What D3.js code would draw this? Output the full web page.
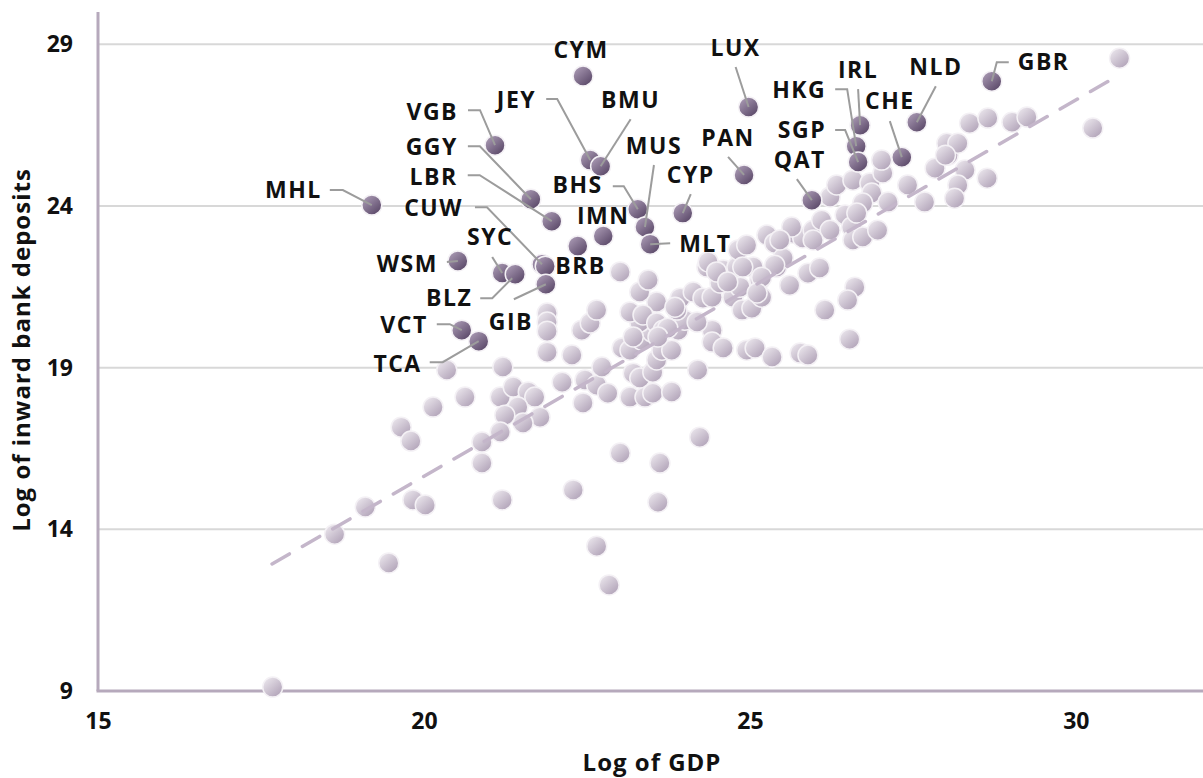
<!DOCTYPE html>
<html><head><meta charset="utf-8">
<script src="https://cdn.jsdelivr.net/npm/d3@7"></script>
<style>
html,body{margin:0;padding:0;background:#fff;}
svg{display:block;}
text{font-family:"Open Sans",sans-serif;font-weight:700;fill:#111;}
</style></head><body>
<svg id="chart" width="1203" height="778"></svg>
<script>
// ---------- data ----------
const xTicks = [15, 20, 25, 30];
const yTicks = [9, 14, 19, 24, 29];
const xTitle = "Log of GDP";
const yTitle = "Log of inward bank deposits";

const lightX = [17.68,18.63,19.46,19.10,19.83,20.02,19.65,19.80,20.14,20.35,20.63,20.89,20.89,21.20,22.29,23.01,23.62,23.59,24.23,22.65,22.84,
21.17,21.37,21.60,21.70,21.44,21.78,21.52,21.24,21.17,21.21,
21.89,21.89,21.89,21.89,22.27,22.42,22.55,22.65,23.01,22.12,22.47,22.65,22.82,22.44,23.16,23.39,23.51,23.80,22.73,23.21,23.31,23.51,23.57,23.65,23.80,23.04,23.16,23.34,23.50,23.31,23.16,23.57,23.31,23.44,23.36,23.57,23.67,23.90,24.00,23.88,23.93,24.13,24.28,24.42,24.74,24.20,24.42,24.42,24.59,24.95,25.08,25.34,24.88,25.03,25.18,25.61,24.54,24.34,24.59,24.80,25.05,25.15,25.41,25.77,24.19,23.74,23.59,23.21,23.85,24.36,24.49,24.82,24.95,25.26,25.38,25.66,25.81,25.97,25.51,25.38,25.18,24.85,25.11,24.66,24.89,25.89,26.07,26.61,26.50,26.15,26.53,25.89,
26.23,26.33,26.58,26.84,27.04,27.02,26.87,26.73,27.12,27.42,27.68,27.84,28.04,28.30,28.19,28.14,28.64,26.10,26.23,26.46,26.56,26.58,26.73,26.96,30.67,30.26,28.37,28.65,29.02,29.25,28.02,28.19,28.00,25.64,25.46,26.64,25.97];
const lightY = [9.12,13.85,12.96,14.69,14.91,14.75,17.16,16.73,17.78,18.93,18.09,16.70,16.05,14.91,15.22,16.36,16.05,14.84,16.85,13.48,12.28,
18.09,18.40,18.25,18.09,17.78,17.47,17.29,17.53,17.01,19.02,
20.69,20.41,20.13,19.48,19.39,20.16,20.38,20.78,21.96,18.55,18.62,18.46,18.21,17.91,18.09,18.09,18.21,18.25,19.02,18.83,18.68,18.86,19.24,19.54,19.54,19.61,19.54,19.85,20.10,20.41,20.72,21.03,21.34,21.71,20.63,20.38,20.16,20.16,20.47,20.78,21.15,21.34,21.15,21.18,21.18,18.93,20.16,19.79,19.61,19.54,19.61,19.33,20.78,20.84,21.18,21.55,21.62,22.11,22.02,22.11,22.11,21.71,22.11,19.45,20.41,20.22,19.95,19.95,20.87,22.27,21.96,22.64,22.79,23.10,22.85,23.16,23.01,23.25,22.39,22.17,21.80,21.49,21.31,21.65,22.11,21.92,22.08,21.49,21.09,20.78,19.88,19.39,
24.28,24.65,24.80,24.71,25.02,25.42,24.40,24.09,24.12,24.65,24.12,25.17,25.57,25.11,24.65,24.24,24.86,23.56,23.25,23.72,23.35,22.95,23.04,23.25,28.57,26.41,26.56,26.72,26.59,26.75,25.94,25.94,25.57,23.35,22.95,23.78,22.95];

const hlCodes = ["MHL","VGB","CYM","JEY","BMU","GGY","LBR","CUW","BRB","BHS","IMN","","MUS","MLT","CYP","LUX","PAN","HKG","IRL","SGP","QAT","CHE","NLD","GBR","WSM","SYC","BLZ","GIB","VCT","TCA"];
const hlX = [19.20,21.09,22.44,22.55,22.71,21.64,21.96,21.81,21.86,23.28,22.75,22.36,23.39,23.47,23.97,24.98,24.91,26.63,26.69,26.66,25.95,27.33,27.56,28.71,20.52,21.20,21.40,21.87,20.58,20.84];
const hlY = [24.03,25.88,28.02,25.42,25.23,24.21,23.53,22.20,22.14,23.90,23.07,22.76,23.35,22.82,23.78,27.06,24.96,25.85,26.50,25.36,24.18,25.51,26.59,27.86,22.30,21.93,21.89,21.58,20.16,19.82];

const trendX = [17.67, 30.55];
const trendY = [12.93, 27.92];

// ---------- label layout (pixel offsets from the point) ----------
const labelLayout = {
  MHL:{dx:-50,dy:-15,a:"end",  l:[[-42,-15],[-29,-15],[0,0]]},
  VGB:{dx:-37,dy:-33,a:"end",  l:[[-27,-35],[-15,-35],[0,0]]},
  GGY:{dx:-73,dy:-52,a:"end",  l:[[-63,-53],[-51,-53],[0,0]]},
  LBR:{dx:-94,dy:-44,a:"end",  l:[[-84,-46],[-72,-46],[0,0]]},
  CUW:{dx:-79,dy:-56,a:"end",  l:[[-67,-57],[-55,-57],[0,0]]},
  JEY:{dx:-54,dy:-60,a:"end",  l:[[-44,-61],[-33,-61],[0,0]]},
  CYM:{dx:-2, dy:-26,a:"middle",l:null},
  BMU:{dx:30, dy:-66,a:"middle",l:[[30,-47],[0,0]]},
  MUS:{dx:9,  dy:-81,a:"middle",l:[[9,-62],[0,0]]},
  BHS:{dx:-35,dy:-24,a:"end",  l:[[-25,-23],[-14,-23],[0,0]]},
  IMN:{dx:0,  dy:-20,a:"middle",l:null},
  CYP:{dx:8,  dy:-38,a:"middle",l:[[8,-19],[0,0]]},
  MLT:{dx:29, dy:0,  a:"start",l:[[0,0],[20,-1]]},
  LUX:{dx:-13,dy:-59,a:"middle",l:[[-13,-40],[0,0]]},
  PAN:{dx:-16,dy:-37,a:"middle",l:[[-16,-18],[0,0]]},
  HKG:{dx:-30,dy:-56,a:"end",  l:[[-21,-57],[-9,-57],[0,0]]},
  IRL:{dx:-2, dy:-55,a:"middle",l:[[-2,-36],[0,0]]},
  SGP:{dx:-32,dy:-32,a:"end",  l:[[-23,-32],[-13,-32],[0,0]]},
  QAT:{dx:-12,dy:-40,a:"middle",l:[[-15,-21],[0,0]]},
  CHE:{dx:-12,dy:-56,a:"middle",l:[[-12,-36],[0,0]]},
  NLD:{dx:19, dy:-55,a:"middle",l:[[19,-36],[0,0]]},
  GBR:{dx:26, dy:-19,a:"start",l:[[17,-19],[5,-19],[0,0]]},
  WSM:{dx:-20,dy:3,  a:"end",  l:[[-11,1],[0,0]]},
  SYC:{dx:-12,dy:-36,a:"middle",l:[[-10,-16],[0,0]]},
  BLZ:{dx:-43,dy:24, a:"end",  l:[[-35,24],[-23,24],[-3,4]]},
  BRB:{dx:10, dy:0,  a:"start",l:null},
  GIB:{dx:-35,dy:38, a:"middle",l:[[-32,15],[0,0]]},
  VCT:{dx:-34,dy:-5, a:"end",  l:[[-25,-6],[-12,-6],[0,0]]},
  TCA:{dx:-57,dy:23, a:"end",  l:[[-49,21],[-36,21],[0,0]]}
};

// ---------- chart ----------
const svg = d3.select("#chart");
const x = d3.scaleLinear().domain([15, 31.95]).range([98, 1203]);
const y = d3.scaleLinear().domain([9, 30]).range([691, 12]);
const R = 10;

const defs = svg.append("defs");
function grad(id, c1, c2){
  const g = defs.append("linearGradient").attr("id", id)
    .attr("x1","15%").attr("y1","10%").attr("x2","85%").attr("y2","90%");
  g.append("stop").attr("offset","0%").attr("stop-color",c1);
  g.append("stop").attr("offset","100%").attr("stop-color",c2);
}
grad("gLight", "#e8e3ea", "#b2a4b9");
grad("gDark", "#a797b1", "#5b4969");

// grid
svg.append("g").selectAll("line").data(yTicks.filter(t => t !== 9)).join("line")
  .attr("x1", x(15)).attr("x2", 1203)
  .attr("y1", d => y(d)).attr("y2", d => y(d))
  .attr("stroke", "#d8d8d8").attr("stroke-width", 2);

// axes (D3 axes for tick labels)
const yAxis = svg.append("g").attr("transform", `translate(${x(15)},0)`)
  .call(d3.axisLeft(y).tickValues(yTicks).tickSize(0).tickPadding(25));
yAxis.select(".domain").remove();
yAxis.selectAll("text").style("font-size","23px").style("font-family","'Open Sans',sans-serif")
  .style("font-weight","700").attr("fill","#111");

const xAxis = svg.append("g").attr("transform", `translate(0,${y(9)})`)
  .call(d3.axisBottom(x).tickValues(xTicks).tickSize(0).tickPadding(22));
xAxis.select(".domain").remove();
xAxis.selectAll("text").style("font-size","23px").style("font-family","'Open Sans',sans-serif")
  .style("font-weight","700").attr("fill","#111");

svg.append("line").attr("x1", x(15)).attr("x2", x(15)).attr("y1", y(30)).attr("y2", y(9))
  .attr("stroke", "#b6a9bc").attr("stroke-width", 3);
svg.append("line").attr("x1", x(15) - 1.5).attr("x2", 1203).attr("y1", y(9)).attr("y2", y(9))
  .attr("stroke", "#b6a9bc").attr("stroke-width", 3);

// axis titles
svg.append("text").attr("x", 652).attr("y", 763).attr("text-anchor","middle")
  .attr("dy","0.35em").style("font-size","24px").style("letter-spacing","1px").text(xTitle);
svg.append("text").attr("transform", "translate(22,350) rotate(-90)").attr("text-anchor","middle")
  .attr("dy","0.35em").style("font-size","24px").style("letter-spacing","1px").text(yTitle);

// light points
const light = lightX.map((v, i) => ({x: v, y: lightY[i]}));
svg.append("g").selectAll("circle").data(light).join("circle")
  .attr("cx", d => x(d.x)).attr("cy", d => y(d.y)).attr("r", R)
  .attr("fill", "url(#gLight)").attr("stroke", "#f4f1f5").attr("stroke-width", 1.5);

// trend line
svg.append("path")
  .datum(trendX.map((v, i) => [v, trendY[i]]))
  .attr("d", d3.line().x(d => x(d[0])).y(d => y(d[1])))
  .attr("stroke", "#c4b6ca").attr("stroke-width", 3.5).attr("fill","none")
  .attr("stroke-dasharray", "20 15").attr("stroke-linecap","round");

// highlighted points
const hl = hlCodes.map((c, i) => ({code: c, x: hlX[i], y: hlY[i]}));
svg.append("g").selectAll("circle").data(hl).join("circle")
  .attr("cx", d => x(d.x)).attr("cy", d => y(d.y)).attr("r", R)
  .attr("fill", "url(#gDark)").attr("stroke", "#f4f1f5").attr("stroke-width", 1.5);

// leaders
const lineGen = d3.line();
svg.append("g").selectAll("path").data(hl.filter(d => labelLayout[d.code] && labelLayout[d.code].l)).join("path")
  .attr("d", d => {
    const px = x(d.x), py = y(d.y);
    return lineGen(labelLayout[d.code].l.map(p => [px + p[0], py + p[1]]));
  })
  .attr("fill","none").attr("stroke","#9c9c9c").attr("stroke-width", 2);

// labels
svg.append("g").selectAll("text").data(hl.filter(d => labelLayout[d.code])).join("text")
  .attr("x", d => x(d.x) + labelLayout[d.code].dx)
  .attr("y", d => y(d.y) + labelLayout[d.code].dy)
  .attr("dy", "0.35em")
  .attr("text-anchor", d => labelLayout[d.code].a)
  .style("font-size", "23px").style("letter-spacing", "1.5px")
  .text(d => d.code);
</script>
</body></html>
